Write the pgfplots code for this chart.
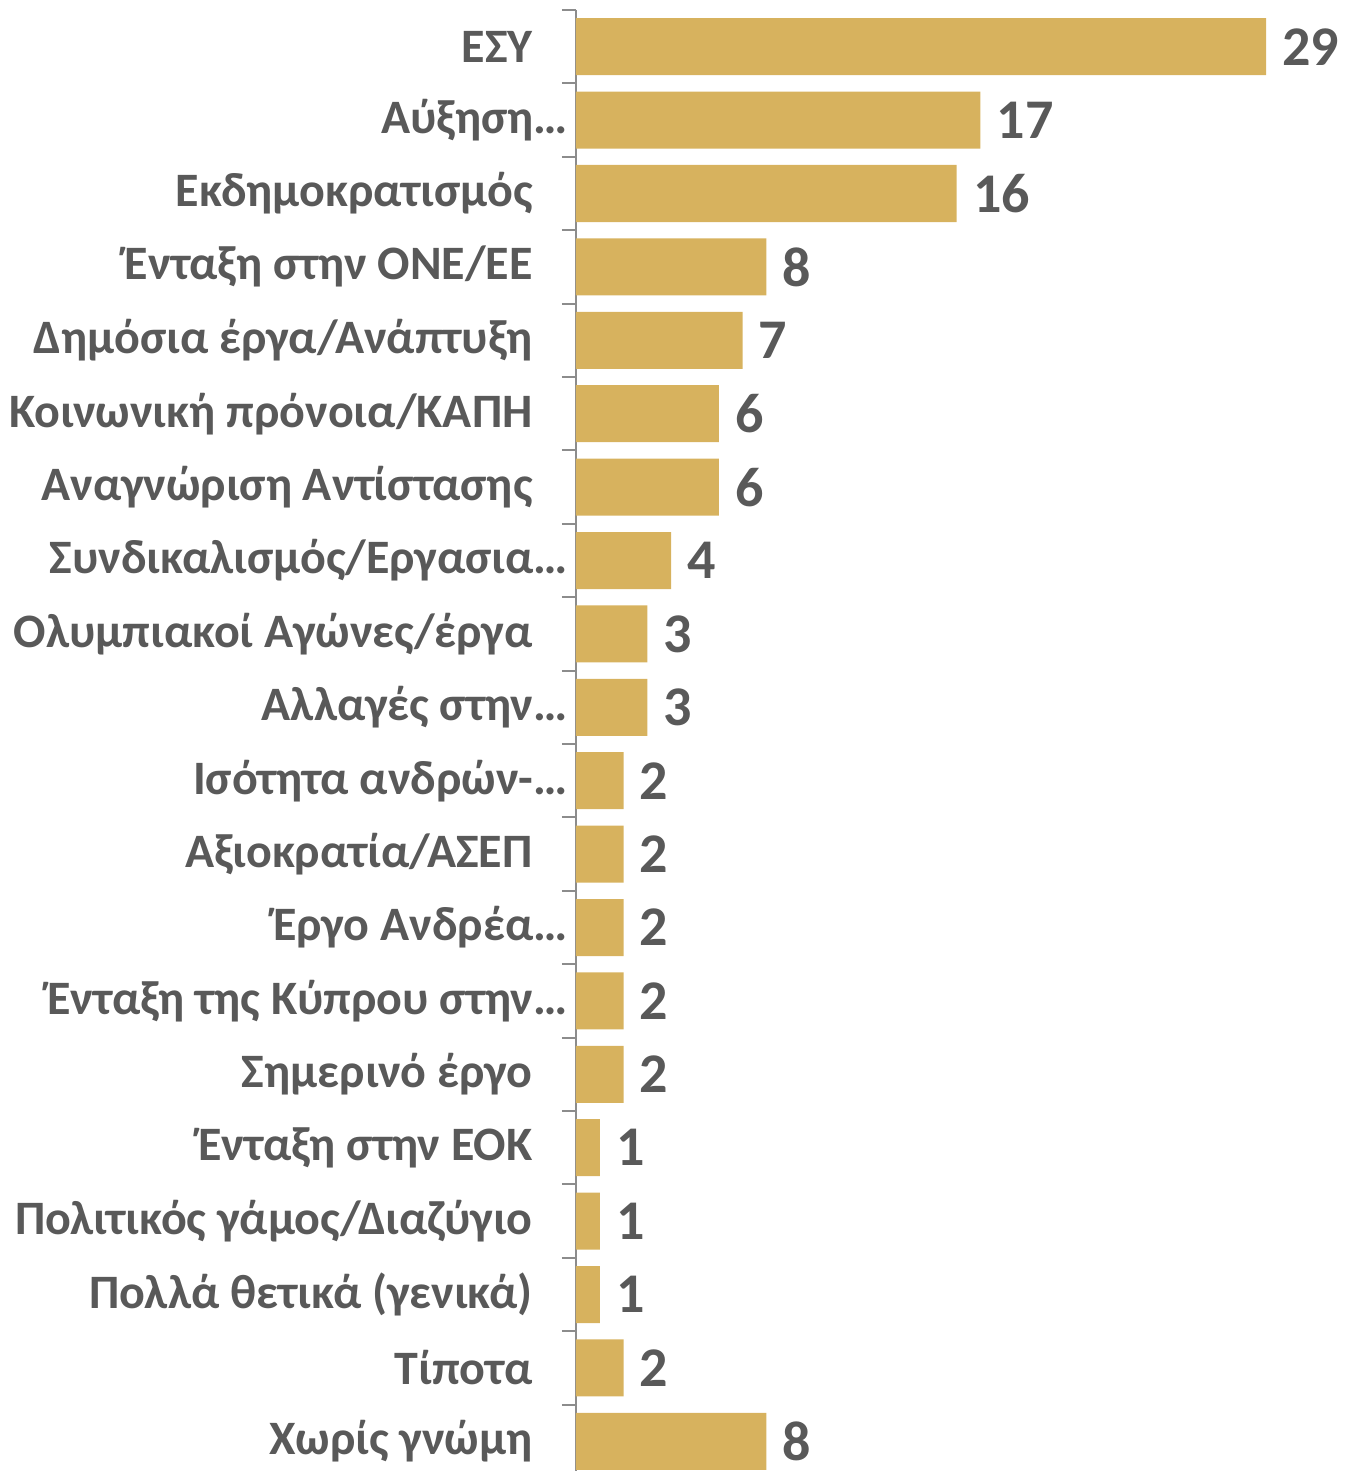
\documentclass[border=0pt]{standalone}
\usepackage{pgfplots}
\pgfplotsset{compat=1.18}
\usepackage{fontspec}
\setmainfont{Carlito}
\definecolor{bargold}{HTML}{D7B25E}
\definecolor{txtgray}{HTML}{595959}
\definecolor{axgray}{HTML}{8C8C8C}
\newcommand\pad{\rule{17.5pt}{0pt}}
\begin{document}
\begin{tikzpicture}
\begin{axis}[
  at={(0,-3.5pt)}, anchor=south west,
  scale only axis,
  width=380.7pt, height=734pt,
  xmin=0, xmax=32, ymin=-0.5, ymax=19.5,
  y dir=reverse,
  axis x line=none,
  axis y line*=left,
  y axis line style={draw=axgray, line width=1pt},
  xbar, bar width=28.5pt, bar shift=0pt,
  /pgf/number format/assume math mode=true,
  ytick={0,...,19},
  yticklabels={{ΕΣΥ\pad},{Αύξηση…},{Εκδημοκρατισμός\pad},{Ένταξη στην ΟΝΕ/ΕΕ\pad},{Δημόσια έργα/Ανάπτυξη\pad},{Κοινωνική πρόνοια/ΚΑΠΗ\pad},{Αναγνώριση Αντίστασης\pad},{Συνδικαλισμός/Εργασια…},{Ολυμπιακοί Αγώνες/έργα\pad},{Αλλαγές στην…},{Ισότητα ανδρών-…},{Αξιοκρατία/ΑΣΕΠ\pad},{Έργο Ανδρέα…},{Ένταξη της Κύπρου στην…},{Σημερινό έργο\pad},{Ένταξη στην ΕΟΚ\pad},{Πολιτικός γάμος/Διαζύγιο\pad},{Πολλά θετικά (γενικά)\pad},{Τίποτα\pad},{Χωρίς γνώμη\pad}},
  major tick length=0pt,
  yticklabel style={font=\fontsize{24}{29}\selectfont\bfseries, text=txtgray, anchor=east, inner sep=0pt, xshift=-4pt},
  extra y ticks={-0.5,0.5,...,19.5},
  extra y tick labels={},
  extra y tick style={major tick length=7pt, tick align=outside, major tick style={draw=axgray, line width=1pt}},
  nodes near coords,
  nodes near coords style={font=\fontsize{28}{33}\selectfont\bfseries, text=txtgray, anchor=west, inner sep=0pt, xshift=8pt},
  clip=false,
]
\addplot[fill=bargold, draw=none] coordinates {(29,0) (17,1) (16,2) (8,3) (7,4) (6,5) (6,6) (4,7) (3,8) (3,9) (2,10) (2,11) (2,12) (2,13) (2,14) (1,15) (1,16) (1,17) (2,18) (8,19)};
\end{axis}
\pgfresetboundingbox
\path[use as bounding box] (-288pt,0pt) rectangle (386.5pt,735.5pt);
\end{tikzpicture}
\end{document}
